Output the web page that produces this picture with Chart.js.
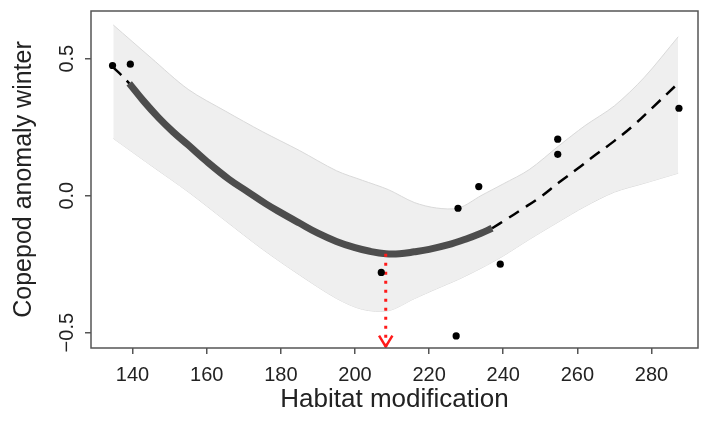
<!DOCTYPE html>
<html>
<head>
<meta charset="utf-8">
<script src="https://cdn.jsdelivr.net/npm/chart.js@4.4.0/dist/chart.umd.min.js"></script>
<style>
  html, body { margin: 0; padding: 0; background: #fff; }
  canvas { display: block; }
</style>
</head>
<body>
<canvas id="chart" width="702" height="421"></canvas>
<script>
// Observed points
const habitat = [134.6, 139.4, 207.1, 227.3, 227.8, 233.4, 239.2, 254.7, 254.7, 287.4];
const copepod = [0.475, 0.480, -0.280, -0.512, -0.046, 0.033, -0.250, 0.206, 0.151, 0.319];

// Fitted smooth (solid where significant, dashed elsewhere)
const fitX = [134.6, 137, 139.1, 143, 147, 151, 155, 160, 166, 171, 176, 180, 185, 190, 195, 200, 204, 208.3,
              212, 216, 220, 225, 230, 234, 237, 241, 245, 250, 255, 260, 265, 270, 275, 280, 287.4];
const fitY = [0.470, 0.440, 0.410, 0.345, 0.285, 0.232, 0.185, 0.125, 0.060, 0.015, -0.030, -0.062, -0.100, -0.137,
              -0.167, -0.190, -0.203, -0.212, -0.212, -0.205, -0.196, -0.180, -0.158, -0.137, -0.119, -0.085,
              -0.050, -0.005, 0.048, 0.098, 0.150, 0.200, 0.255, 0.318, 0.413];
const solidFrom = 139.1;
const solidTo = 237;

// Confidence band
const bandX = [134.8, 145, 155, 165, 175, 185, 195, 202, 209, 216, 222, 228, 234, 240, 247, 255, 262, 270, 278, 287.2];
const bandUpper = [0.623, 0.503, 0.388, 0.309, 0.234, 0.165, 0.091, 0.056, 0.022, -0.025, -0.045, -0.045, 0.000,
                   0.043, 0.095, 0.182, 0.255, 0.328, 0.431, 0.580];
const bandLower = [0.209, 0.110, 0.014, -0.091, -0.195, -0.289, -0.375, -0.415, -0.420, -0.376, -0.340, -0.305,
                   -0.265, -0.220, -0.160, -0.095, -0.040, 0.013, 0.045, 0.082];

// Minimum marker
const minX = 208.3;
const minY = -0.212;
const arrowTip = -0.551;

// Axes
const xTicks = [140, 160, 180, 200, 220, 240, 260, 280];
const yTicks = [-0.5, 0, 0.5];
const yTickLabels = ['\u22120.5', '0.0', '0.5'];

const pts = (xs, ys) => xs.map((x, i) => ({ x: x, y: ys[i] }));
const fitPts = pts(fitX, fitY);

Chart.defaults.font.family = '"Liberation Sans", Arial, sans-serif';
Chart.defaults.color = '#222';

// Box around the plot and rotated y tick labels (R style)
const frame = {
    id: 'frame',
    afterDatasetsDraw(chart) {
        const { ctx, chartArea: a, scales: { y } } = chart;
        ctx.save();
        ctx.strokeStyle = '#555';
        ctx.lineWidth = 1.5;
        ctx.strokeRect(a.left, a.top, a.right - a.left, a.bottom - a.top);
        ctx.fillStyle = '#222';
        ctx.font = '20px "Liberation Sans", Arial, sans-serif';
        ctx.textAlign = 'center';
        ctx.textBaseline = 'middle';
        yTicks.forEach((v, i) => {
            ctx.save();
            ctx.translate(67, y.getPixelForValue(v));
            ctx.rotate(-Math.PI / 2);
            ctx.fillText(yTickLabels[i], 0, 0);
            ctx.restore();
        });
        ctx.restore();
    }
};

new Chart(document.getElementById('chart'), {
    type: 'scatter',
    data: {
        datasets: [
            {
                data: pts(habitat, copepod),
                backgroundColor: '#000',
                pointRadius: 3.6,
                pointBorderWidth: 0,
                order: 0
            },
            {
                data: [
                    { x: minX - 1.8, y: arrowTip + 0.04 },
                    { x: minX, y: arrowTip },
                    { x: minX + 1.8, y: arrowTip + 0.04 }
                ],
                showLine: true,
                borderColor: '#ff1a1a',
                borderWidth: 2.5,
                pointRadius: 0,
                order: 1
            },
            {
                data: [{ x: minX, y: minY }, { x: minX, y: arrowTip }],
                showLine: true,
                borderColor: '#ff1a1a',
                borderWidth: 3,
                borderDash: [3, 6],
                pointRadius: 0,
                order: 1
            },
            {
                data: fitPts.filter(p => p.x <= solidFrom),
                showLine: true,
                borderColor: '#000',
                borderWidth: 2.5,
                borderDash: [12, 8],
                pointRadius: 0,
                tension: 0.4,
                order: 2
            },
            {
                data: fitPts.filter(p => p.x >= solidTo),
                showLine: true,
                borderColor: '#000',
                borderWidth: 2.5,
                borderDash: [12, 8],
                pointRadius: 0,
                tension: 0.4,
                order: 2
            },
            {
                data: fitPts.filter(p => p.x >= solidFrom && p.x <= solidTo),
                showLine: true,
                borderColor: '#4d4d4d',
                borderWidth: 7,
                pointRadius: 0,
                tension: 0.4,
                order: 3
            },
            {
                data: pts(bandX, bandUpper),
                showLine: true,
                borderColor: '#d9d9d9',
                borderWidth: 1,
                backgroundColor: '#efefef',
                fill: '+1',
                pointRadius: 0,
                tension: 0.3,
                order: 5
            },
            {
                data: pts(bandX, bandLower),
                showLine: true,
                borderColor: '#d9d9d9',
                borderWidth: 1,
                pointRadius: 0,
                tension: 0.3,
                order: 5
            }
        ]
    },
    options: {
        responsive: false,
        animation: false,
        layout: { padding: { top: 11, right: 2, left: 0, bottom: 0 } },
        plugins: {
            legend: { display: false },
            tooltip: { enabled: false }
        },
        scales: {
            x: {
                type: 'linear',
                min: 128.79,
                max: 292.54,
                afterBuildTicks: s => { s.ticks = xTicks.map(v => ({ value: v })); },
                afterFit: s => { s.height = 73; },
                grid: { drawOnChartArea: false, drawTicks: true, tickLength: 6, color: '#555', lineWidth: 1.5 },
                border: { display: false },
                ticks: { font: { size: 20 }, color: '#222', padding: 9, maxRotation: 0 },
                title: {
                    display: true,
                    text: 'Habitat modification',
                    font: { size: 26 },
                    color: '#222',
                    padding: { top: 0, bottom: 6 }
                }
            },
            y: {
                type: 'linear',
                min: -0.556,
                max: 0.674,
                afterBuildTicks: s => { s.ticks = yTicks.map(v => ({ value: v })); },
                afterFit: s => { s.width = 91; },
                grid: { drawOnChartArea: false, drawTicks: true, tickLength: 6, color: '#555', lineWidth: 1.5 },
                border: { display: false },
                ticks: { display: false },
                title: {
                    display: true,
                    text: 'Copepod anomaly winter',
                    font: { size: 25 },
                    color: '#222',
                    padding: { top: 9, bottom: 0 }
                }
            }
        }
    },
    plugins: [frame]
});
</script>
</body>
</html>
